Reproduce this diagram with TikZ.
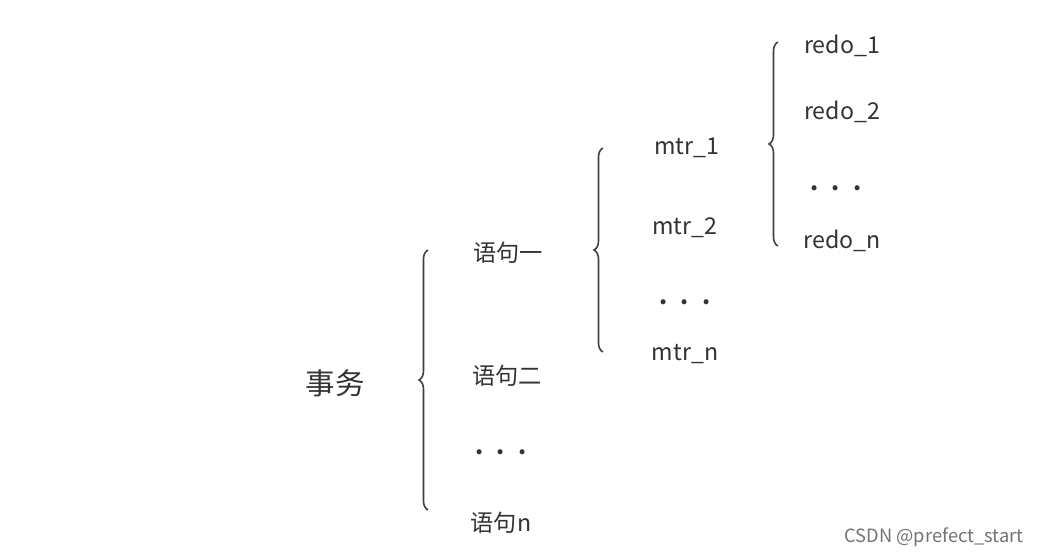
\documentclass[tikz,border=0pt]{standalone}
\usepackage{fontspec}
\setmainfont{Noto Sans CJK SC}
\usetikzlibrary{decorations.pathreplacing}
\tikzstyle{item}=[inner sep=0pt, font=\fontsize{6.6}{8}\selectfont, text=black!80]
\tikzstyle{root}=[inner sep=0pt, font=\fontsize{8.4}{10}\selectfont, text=black!80]
\tikzstyle{watermark}=[inner sep=0pt, font=\fontsize{5.2}{6}\selectfont, text=black!55]
\tikzstyle{brace edge}=[draw=black!75, line width=0.45pt, decorate, decoration={brace, amplitude=0.9mm, aspect=0.5}]
\newcommand{\threedots}{\textbf{.\hspace{1.3mm}.\hspace{1.3mm}.}}
\begin{document}
\begin{tikzpicture}
	\useasboundingbox [fill=white] (0, 0) rectangle (10.47, 5.56);
	\node [style=root] (0) at (3.35, 1.73) {事务};
	\node [style=item] (1) at (5.08, 3.03) {语句一};
	\node [style=item] (2) at (5.07, 1.80) {语句二};
	\node [style=item] (3) at (5.01, 1.04) {\threedots};
	\node [style=item] (4) at (5.01, 0.33) {语句n};
	\node [style=item] (5) at (6.87, 4.08) {mtr\_1};
	\node [style=item] (6) at (6.85, 3.28) {mtr\_2};
	\node [style=item] (7) at (6.85, 2.54) {\threedots};
	\node [style=item] (8) at (6.85, 2.02) {mtr\_n};
	\node [style=item] (9) at (8.42, 5.10) {redo\_1};
	\node [style=item] (10) at (8.42, 4.44) {redo\_2};
	\node [style=item] (11) at (8.36, 3.68) {\threedots};
	\node [style=item] (12) at (8.42, 3.15) {redo\_n};
	\node [style=watermark] (13) at (9.34, 0.19) {CSDN @prefect\_start};
	\coordinate (b0) at (4.28, 0.46);
	\coordinate (t0) at (4.28, 3.06);
	\coordinate (b1) at (6.03, 2.04);
	\coordinate (t1) at (6.03, 4.08);
	\coordinate (b2) at (7.78, 3.10);
	\coordinate (t2) at (7.78, 5.14);
	\draw [style=brace edge] (b0) to (t0);
	\draw [style=brace edge] (b1) to (t1);
	\draw [style=brace edge] (b2) to (t2);
\end{tikzpicture}
\end{document}
